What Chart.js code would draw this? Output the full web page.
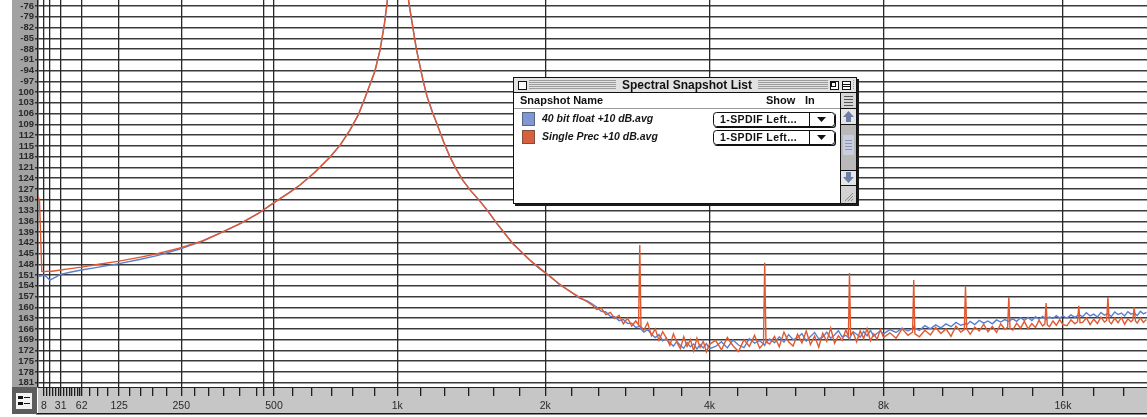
<!DOCTYPE html>
<html>
<head>
<meta charset="utf-8">
<title>Spectral Snapshot</title>
<script src="https://cdn.jsdelivr.net/npm/chart.js@4/dist/chart.umd.min.js"></script>
<style>
  html, body { margin: 0; padding: 0; background: #ffffff; overflow: hidden; }
  canvas { display: block; }
</style>
</head>
<body>
<canvas id="spec" width="1147" height="417"></canvas>
<script>
// ---------------- data ----------------
const seriesNames = ['40 bit float +10 dB.avg', 'Single Prec +10 dB.avg'];
const showIn = ['1-SPDIF Left...', '1-SPDIF Left...'];

// FFT bin frequencies (Hz)
const freqHz = [
  0, 2, 5, 8, 12, 16, 24, 31, 45, 62,
  90, 125, 165, 200, 245, 300, 344, 400, 450, 500,
  550, 587, 640, 699, 740, 780, 815, 846, 870, 891,
  915, 935, 949, 970, 985, 1000, 1015, 1030, 1045, 1060,
  1100, 1136, 1159, 1190, 1216, 1255, 1294, 1330, 1376, 1430,
  1490, 1550, 1610, 1670, 1731, 1800, 1869, 1950, 2042, 2130,
  2220, 2326, 2400,
  2450, 2500, 2550, 2600, 2650, 2700, 2750, 2800, 2850, 2900, 2950, 2985, 3000, 3015, 3050, 3100, 3150, 3200,
  3250, 3300, 3350, 3400, 3450, 3500, 3550, 3600, 3650, 3700, 3750, 3800, 3850, 3900, 3950, 4000,
  4100, 4200, 4300, 4400, 4500, 4600, 4700, 4800, 4900, 4975, 5000, 5025, 5100, 5200, 5300, 5400, 5500, 5600, 5700, 5800, 5900, 6000,
  6100, 6200, 6300, 6400, 6500, 6600, 6700, 6800, 6900, 6970, 7000, 7030, 7100, 7200, 7300, 7400, 7500, 7600, 7700, 7800, 7900, 8000,
  8200, 8400, 8600, 8800, 8960, 9000, 9040, 9200, 9400, 9600, 9800, 10000, 10200, 10400, 10600, 10800, 10950, 11000, 11050, 11200, 11400, 11600, 11800, 12000,
  12200, 12400, 12600, 12800, 12940, 13000, 13060, 13200, 13400, 13600, 13800, 14000, 14200, 14400, 14600, 14800, 14930, 15000, 15070, 15200, 15400, 15600, 15800, 16000,
  16250, 16500, 16750, 16920, 17000, 17080, 17250, 17500, 17750, 18000, 18250, 18500, 18750, 18910, 19000, 19090,
  19250, 19500, 19750, 20000, 20250, 20500, 20750, 20900, 21000, 21100, 21250, 21500, 21750, 22000
];

// 40 bit float render, level in dB
const floatDb = [
  -151.0, -151.3, -151.2, -151.0, -151.6, -152.4, -151.6, -150.8, -150.2, -149.6,
  -148.8, -147.8, -146.6, -145.5, -143.8, -141.5, -139.3, -136.6, -133.9, -130.8,
  -128.0, -125.9, -122.4, -118.1, -114.7, -110.6, -106.5, -101.6, -97.6, -94.2,
  -88.3, -81.5, -75.2, -63.0, -48.0, -18.0, -47.0, -60.0, -68.0, -75.2,
  -88.0, -96.6, -101.2, -105.6, -108.8, -113.8, -118.0, -121.2, -124.6, -127.6,
  -130.4, -133.4, -136.6, -139.4, -142.2, -144.6, -146.9, -149.2, -151.3, -153.7,
  -155.3, -157.5, -158.2,
  -159.0, -159.9, -161.1, -161.3, -162.5, -162.6, -163.7, -163.4, -164.5, -164.4, -165.6, -165.4, -165.1, -166.0, -166.9, -166.2, -167.5, -168.4,
  -167.6, -169.3, -168.7, -169.9, -170.8, -169.5, -170.6, -171.4, -169.8, -171.0, -170.2, -171.6, -170.4, -171.3, -170.1, -171.5,
  -170.9, -169.6, -171.3, -169.1, -170.5, -171.2, -168.7, -170.0, -169.3, -170.2, -170.6, -169.8, -168.8, -169.9, -168.2, -169.7, -167.6, -169.0, -168.5, -167.3, -169.4, -168.1,
  -167.0, -168.8, -168.3, -166.9, -168.6, -167.7, -166.5, -168.2, -167.8, -168.4, -168.9, -168.1, -166.8, -167.5, -168.3, -166.7, -167.9, -166.4, -168.0, -167.2, -166.6, -167.4,
  -166.2, -167.0, -165.8, -166.6, -165.9, -165.3, -165.8, -166.4, -165.1, -166.0, -164.9, -165.7, -164.6, -165.4, -164.2, -165.0, -164.7, -164.5, -164.9, -163.9, -164.8, -163.6, -164.4, -163.8,
  -164.6, -163.5, -164.1, -163.4, -163.8, -164.0, -163.6, -163.2, -163.9, -162.9, -163.6, -162.8, -163.7, -162.6, -163.3, -162.5, -163.0, -163.4, -162.9, -162.7, -163.1, -162.3, -163.0, -162.4,
  -163.0, -162.1, -162.8, -162.3, -161.8, -162.2, -162.6, -161.5, -162.4, -161.9, -162.7, -161.4, -162.2, -161.9, -161.7, -162.1,
  -162.5, -161.3, -162.0, -161.6, -162.4, -161.2, -161.9, -161.7, -161.5, -161.9, -162.3, -161.1, -161.8, -161.4
];

// single precision render, level in dB (odd harmonics of the 1 kHz tone stand out)
const singleDb = [
  -129.0, -130.2, -150.0, -150.1, -149.9, -150.0, -149.8, -149.6, -149.2, -148.8,
  -148.0, -147.1, -146.0, -145.0, -143.5, -141.5, -139.3, -136.6, -133.9, -130.8,
  -128.0, -125.9, -122.4, -118.1, -114.7, -110.6, -106.5, -101.6, -97.6, -94.2,
  -88.3, -81.5, -75.2, -63.0, -48.0, -18.0, -47.0, -60.0, -68.0, -75.2,
  -88.0, -96.6, -101.2, -105.6, -108.8, -113.8, -118.0, -121.2, -124.6, -127.6,
  -130.4, -133.4, -136.6, -139.4, -142.2, -144.6, -146.8, -149.0, -151.4, -153.5,
  -155.4, -157.2, -158.4,
  -159.3, -160.6, -160.2, -162.0, -161.4, -163.1, -162.2, -164.6, -163.0, -165.2, -163.8, -164.9, -142.6, -165.3, -166.4, -164.3, -167.9, -166.0,
  -169.2, -166.8, -168.5, -170.6, -167.4, -169.8, -171.5, -168.2, -170.9, -169.0, -172.1, -168.6, -171.2, -169.4, -172.4, -170.3,
  -169.2, -171.8, -168.4, -170.7, -172.3, -169.0, -170.9, -167.8, -171.4, -170.1, -147.6, -169.6, -170.2, -168.1, -171.0, -166.9, -169.6, -170.8, -167.5, -169.9, -166.6, -170.4,
  -168.0, -171.1, -167.2, -169.5, -165.8, -170.0, -167.9, -169.2, -166.3, -168.0, -150.4, -167.6, -167.0, -169.6, -166.5, -168.7, -165.9, -169.3, -167.4, -168.9, -166.2, -168.4,
  -167.1, -168.6, -166.0, -167.8, -166.9, -152.4, -167.4, -168.2, -166.4, -167.7, -165.6, -167.3, -166.0, -168.1, -165.2, -166.9, -166.2, -154.1, -166.0, -167.5, -165.5, -166.6, -164.7, -166.8,
  -165.3, -167.0, -164.6, -166.1, -165.6, -157.1, -165.9, -166.3, -164.4, -165.8, -163.9, -166.0, -164.5, -165.6, -163.6, -165.2, -164.6, -158.8, -164.9, -165.4, -163.8, -165.0, -163.4, -164.8,
  -165.1, -163.5, -164.6, -164.0, -159.6, -164.3, -164.2, -162.9, -164.8, -163.3, -164.5, -162.7, -164.1, -163.6, -157.1, -163.9,
  -164.6, -163.0, -164.3, -162.8, -164.7, -163.2, -164.0, -163.5, -159.9, -163.8, -164.4, -162.9, -164.2, -163.4
];

// level axis ticks (dB)
const levelTicksDb = [
  -76, -79, -82, -85, -88, -91, -94, -97, -100, -103, -106, -109,
  -112, -115, -118, -121, -124, -127, -130, -133, -136, -139, -142, -145,
  -148, -151, -154, -157, -160, -163, -166, -169, -172, -175, -178, -181
];

// frequency ruler: labelled ticks and their labels
const freqTickHz = [7.8125, 15.625, 31.25, 62.5, 125, 250, 500, 1000, 2000, 4000, 8000, 16000];
const freqTickLabels = ['8', '', '31', '62', '125', '250', '500', '1k', '2k', '4k', '8k', '16k'];
const cursorHz = [466];

// ---------------- axis helpers ----------------
const WARP_HZ = 352;           // offset of the warped-log frequency axis
const gridHz = new Set([...freqTickHz, ...cursorHz]);

function rulerMinorTicks() {
  const out = [];
  for (let f = 12; f <= 60; f += 4) {
    if (Math.abs(f - 15.625) > 1 && Math.abs(f - 31.25) > 1) out.push(f);
  }
  [[62.5, 4], [125, 5], [250, 6], [500, 6], [1000, 6], [2000, 6], [4000, 6], [8000, 6], [16000, 6]]
    .forEach(([base, n]) => {
      for (let k = 1; k < n; k++) {
        const f = base * Math.pow(2, k / n);
        if (f < 22050) out.push(f);
      }
    });
  return out;
}

// Frequency axis: logarithmic in (f + WARP_HZ), so the low end stays compact
class WarpedFrequencyScale extends Chart.LinearScale {
  warp(v) { return Math.log2(Math.max(v, 0) + WARP_HZ); }
  buildTicks() {
    const vals = [...freqTickHz, ...cursorHz, ...rulerMinorTicks()].sort((a, b) => a - b);
    return vals.map(value => ({ value }));
  }
  getPixelForValue(value) {
    const a = this.warp(this.min), b = this.warp(this.max);
    return this.getPixelForDecimal((this.warp(value) - a) / (b - a));
  }
  getValueForPixel(pixel) {
    const a = this.warp(this.min), b = this.warp(this.max);
    return Math.pow(2, a + this.getDecimalForPixel(pixel) * (b - a)) - WARP_HZ;
  }
}
WarpedFrequencyScale.id = 'warpedFrequency';
WarpedFrequencyScale.defaults = {};
Chart.register(WarpedFrequencyScale);

// ---------------- panel chrome ----------------
const panelChrome = {
  id: 'panelChrome',
  beforeDraw(chart) {
    const { ctx, chartArea: ca, width } = chart;
    ctx.save();
    ctx.fillStyle = '#ffffff';
    ctx.fillRect(0, 0, width, chart.height);
    // level strip
    ctx.fillStyle = '#a2a2a2';
    ctx.fillRect(12, 0, ca.left - 13, ca.bottom);
    // frequency ruler
    ctx.fillStyle = '#c6c6c6';
    ctx.fillRect(ca.left, ca.bottom, width - ca.left, 26);
    ctx.fillStyle = '#161616';
    ctx.fillRect(ca.left - 2, ca.bottom + 26, width - ca.left + 2, 1.5);
    // corner box with its icon
    ctx.fillStyle = '#5c5c5c';
    ctx.fillRect(12, ca.bottom, ca.left - 13, 27);
    ctx.fillStyle = '#f2f2f2';
    ctx.fillRect(16, ca.bottom + 6, 16, 16);
    ctx.fillStyle = '#111';
    ctx.fillRect(18, ca.bottom + 9, 5, 3);
    ctx.fillRect(18, ca.bottom + 15, 5, 3);
    ctx.fillRect(24, ca.bottom + 10, 6, 1);
    ctx.fillRect(24, ca.bottom + 16, 6, 1);
    ctx.restore();
  }
};

// ---------------- snapshot list window (legend) ----------------
function hline(ctx, x1, x2, y) { ctx.beginPath(); ctx.moveTo(x1, y + 0.5); ctx.lineTo(x2, y + 0.5); ctx.stroke(); }
function vline(ctx, x, y1, y2) { ctx.beginPath(); ctx.moveTo(x + 0.5, y1); ctx.lineTo(x + 0.5, y2); ctx.stroke(); }

const snapshotWindow = {
  id: 'snapshotWindow',
  afterDraw(chart) {
    const ctx = chart.ctx;
    const x = 513, y = 77, w = 344, h = 127;
    ctx.save();
    // shadow and frame
    ctx.fillStyle = '#1a1a1a';
    ctx.fillRect(x + 2, y + 2, w, h);
    ctx.fillStyle = '#ffffff';
    ctx.fillRect(x, y, w, h);
    ctx.strokeStyle = '#111111';
    ctx.lineWidth = 1;
    ctx.strokeRect(x + 0.5, y + 0.5, w - 1, h - 1);

    // title bar with pinstripes
    ctx.fillStyle = '#e2e2e2';
    ctx.fillRect(x + 1, y + 1, w - 2, 14);
    ctx.strokeStyle = '#9c9c9c';
    for (let r = y + 3; r <= y + 12; r += 2) hline(ctx, x + 3, x + w - 3, r);
    ctx.font = 'bold 12px "Liberation Sans"';
    ctx.textBaseline = 'middle';
    ctx.textAlign = 'center';
    const title = 'Spectral Snapshot List';
    const tw = ctx.measureText(title).width;
    const tcx = x + w / 2 + 2;
    ctx.fillStyle = '#e2e2e2';
    ctx.fillRect(tcx - tw / 2 - 6, y + 2, tw + 12, 12);
    ctx.fillStyle = '#111';
    ctx.fillText(title, tcx, y + 8.5);
    // close / zoom / collapse boxes
    const box = (bx) => {
      ctx.fillStyle = '#e2e2e2'; ctx.fillRect(bx - 2, y + 2, 13, 12);
      ctx.fillStyle = '#fafafa'; ctx.fillRect(bx, y + 4, 9, 9);
      ctx.strokeStyle = '#111'; ctx.strokeRect(bx + 0.5, y + 4.5, 8, 8);
    };
    box(x + 5);
    box(x + w - 27);
    box(x + w - 15);
    ctx.strokeStyle = '#111';
    ctx.strokeRect(x + w - 26 + 0.5, y + 5.5, 4, 4);
    hline(ctx, x + w - 14, x + w - 7, y + 7);
    hline(ctx, x + w - 14, x + w - 7, y + 9);
    hline(ctx, x, x + w, y + 15);

    // scroll bar
    const sx = x + w - 17;
    vline(ctx, sx, y + 16, y + h - 1);
    ctx.fillStyle = '#d6d6d6';
    ctx.fillRect(sx + 1, y + 16, 15, 15);
    ctx.fillStyle = '#555';
    for (let r = 0; r < 4; r++) ctx.fillRect(sx + 4, y + 19 + r * 3, 9, 1);
    hline(ctx, sx, x + w, y + 31);
    // up arrow
    ctx.fillStyle = '#e6e6e6';
    ctx.fillRect(sx + 1, y + 32, 15, 15);
    ctx.fillStyle = '#6d7fa8';
    ctx.beginPath();
    ctx.moveTo(sx + 8.5, y + 34); ctx.lineTo(sx + 14, y + 40); ctx.lineTo(sx + 11, y + 40);
    ctx.lineTo(sx + 11, y + 45); ctx.lineTo(sx + 6, y + 45); ctx.lineTo(sx + 6, y + 40);
    ctx.lineTo(sx + 3, y + 40); ctx.closePath(); ctx.fill();
    ctx.strokeStyle = '#111';
    hline(ctx, sx, x + w, y + 47);
    // track and thumb
    ctx.fillStyle = '#b9b9b9';
    ctx.fillRect(sx + 1, y + 48, 15, 45);
    ctx.fillStyle = '#c9cde0';
    ctx.fillRect(sx + 3, y + 58, 11, 20);
    ctx.strokeStyle = '#8e95b3';
    for (let r = 0; r < 4; r++) hline(ctx, sx + 5, sx + 12, y + 63 + r * 3);
    ctx.strokeStyle = '#111';
    hline(ctx, sx, x + w, y + 93);
    // down arrow
    ctx.fillStyle = '#e6e6e6';
    ctx.fillRect(sx + 1, y + 94, 15, 14);
    ctx.fillStyle = '#6d7fa8';
    ctx.beginPath();
    ctx.moveTo(sx + 8.5, y + 106); ctx.lineTo(sx + 14, y + 100); ctx.lineTo(sx + 11, y + 100);
    ctx.lineTo(sx + 11, y + 95); ctx.lineTo(sx + 6, y + 95); ctx.lineTo(sx + 6, y + 100);
    ctx.lineTo(sx + 3, y + 100); ctx.closePath(); ctx.fill();
    ctx.strokeStyle = '#111';
    hline(ctx, sx, x + w, y + 108);
    // grow box
    ctx.fillStyle = '#d2d2d2';
    ctx.fillRect(sx + 1, y + 109, 15, h - 110);
    ctx.strokeStyle = '#8a8a8a';
    for (let d = 0; d < 3; d++) {
      ctx.beginPath();
      ctx.moveTo(sx + 5 + d * 3, y + h - 3);
      ctx.lineTo(sx + 13, y + h - 11 + d * 3);
      ctx.stroke();
    }

    // column header
    ctx.textAlign = 'left';
    ctx.fillStyle = '#111';
    ctx.font = 'bold 11px "Liberation Sans"';
    ctx.fillText('Snapshot Name', x + 7, y + 24);
    ctx.fillText('Show', x + 253, y + 24);
    ctx.fillText('In', x + 292, y + 24);
    ctx.strokeStyle = '#9a9a9a';
    hline(ctx, x + 1, sx, y + 31);

    // one row per snapshot
    chart.data.datasets.forEach((ds, i) => {
      const ry = y + 35 + i * 18;
      ctx.fillStyle = ds.backgroundColor;
      ctx.fillRect(x + 9, ry, 13, 14);
      ctx.strokeStyle = 'rgba(60,60,60,0.55)';
      ctx.strokeRect(x + 9.5, ry + 0.5, 12, 13);
      ctx.fillStyle = '#151515';
      ctx.font = 'italic bold 10.5px "Liberation Sans"';
      ctx.fillText(ds.label, x + 29, ry + 7.5);
      // popup menu
      const px = x + 200, pw = 122, ph = 15;
      ctx.fillStyle = '#111';
      ctx.beginPath(); ctx.roundRect(px + 1, ry + 1, pw, ph, 3); ctx.fill();
      ctx.fillStyle = '#ffffff';
      ctx.beginPath(); ctx.roundRect(px, ry, pw, ph, 3); ctx.fill();
      ctx.strokeStyle = '#111';
      ctx.beginPath(); ctx.roundRect(px + 0.5, ry + 0.5, pw - 1, ph - 1, 3); ctx.stroke();
      vline(ctx, px + 96, ry, ry + ph);
      ctx.fillStyle = '#111';
      ctx.font = 'bold 10.5px "Liberation Sans"';
      ctx.letterSpacing = '0.4px';
      ctx.fillText(showIn[i], px + 7, ry + 8);
      ctx.letterSpacing = '0px';
      ctx.beginPath();
      ctx.moveTo(px + 104, ry + 5); ctx.lineTo(px + 113, ry + 5); ctx.lineTo(px + 108.5, ry + 10);
      ctx.closePath(); ctx.fill();
    });
    ctx.restore();
  }
};

// ---------------- chart ----------------
const toPoints = (vals) => freqHz.map((f, i) => ({ x: f, y: vals[i] }));

new Chart(document.getElementById('spec'), {
  type: 'line',
  data: {
    datasets: [
      {
        label: seriesNames[0],
        data: toPoints(floatDb),
        borderColor: '#5b7fcf',
        backgroundColor: '#7f97d4',
        borderWidth: 1.4,
        pointRadius: 0,
        tension: 0,
        order: 1
      },
      {
        label: seriesNames[1],
        data: toPoints(singleDb),
        borderColor: '#e2582f',
        backgroundColor: '#d9603f',
        borderWidth: 1.4,
        pointRadius: 0,
        tension: 0,
        order: 0
      }
    ]
  },
  options: {
    responsive: false,
    animation: false,
    devicePixelRatio: 1,
    layout: { padding: { left: 12, right: 0, top: 0, bottom: 4 } },
    plugins: { legend: { display: false }, tooltip: { enabled: false } },
    scales: {
      x: {
        type: 'warpedFrequency',
        min: 0,
        max: 22050,
        afterFit: (s) => { s.height = 26; s.paddingLeft = 0; s.paddingRight = 0; },
        ticks: {
          autoSkip: false,
          maxRotation: 0,
          minRotation: 0,
          padding: 4,
          color: '#2a2a2a',
          font: { family: 'Liberation Sans', size: 10.5 },
          callback: (v) => {
            const i = freqTickHz.indexOf(v);
            return i >= 0 ? freqTickLabels[i] : '';
          }
        },
        grid: {
          color: (c) => (c.tick && gridHz.has(c.tick.value)) ? 'rgba(22,22,22,0.92)' : 'rgba(0,0,0,0)',
          lineWidth: 1.3,
          tickLength: 9,
          tickColor: '#1e1e1e',
          tickWidth: 1.3
        },
        border: { color: '#222222', width: 1 }
      },
      y: {
        min: -182.2,
        max: -74.33,
        afterBuildTicks: (s) => { s.ticks = levelTicksDb.map(value => ({ value })); },
        afterFit: (s) => { s.width = 26; s.paddingTop = 0; s.paddingBottom = 0; },
        ticks: {
          autoSkip: false,
          padding: 1,
          color: '#2a2a2a',
          font: { family: 'Liberation Sans', size: 9.5, weight: 'bold' },
          callback: (v) => (v > -100 ? String(v) : String(-v))
        },
        grid: {
          color: 'rgba(38,38,38,0.9)',
          lineWidth: 1.4,
          tickLength: 3,
          tickColor: '#333333'
        },
        border: { color: '#1a1a1a', width: 1.5 }
      }
    }
  },
  plugins: [panelChrome, snapshotWindow]
});
</script>
</body>
</html>
